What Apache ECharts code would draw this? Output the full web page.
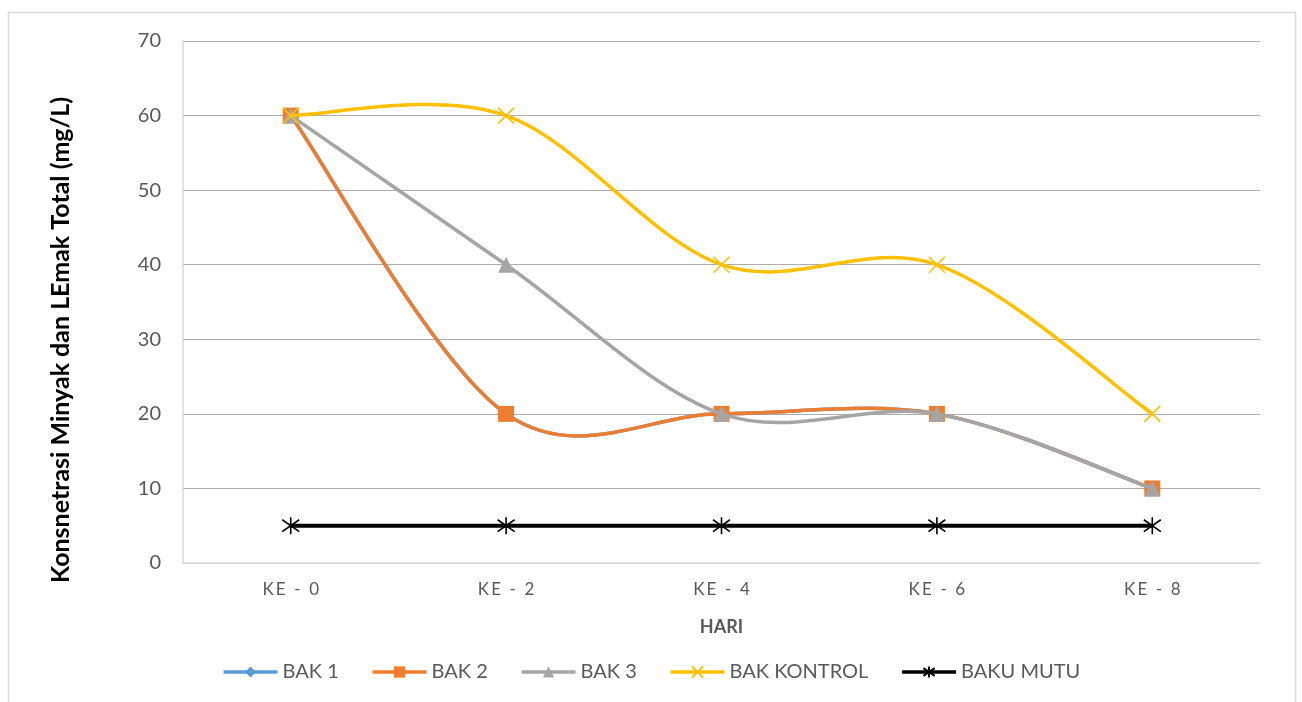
<!DOCTYPE html>
<html>
<head>
<meta charset="utf-8">
<script src="https://cdn.jsdelivr.net/npm/echarts@6/dist/echarts.min.js"></script>
<style>
html,body{margin:0;padding:0;background:#fff;}
#chart{width:1302px;height:702px;}
</style>
</head>
<body>
<div id="chart"></div>
<script>
const categories = ['KE - 0', 'KE - 2', 'KE - 4', 'KE - 6', 'KE - 8'];
const bak1 = [60, 20, 20, 20, 10];
const bak2 = [60, 20, 20, 20, 10];
const bak3 = [60, 40, 20, 20, 10];
const bakKontrol = [60, 60, 40, 40, 20];
const bakuMutu = [5, 5, 5, 5, 5];
const yTicks = { min: 0, max: 70, interval: 10 };

const FONT = 'Lato';
const chart = echarts.init(document.getElementById('chart'), null, { renderer: 'canvas' });

const xPath = 'path://M0,0L10,10M10,0L0,10';
const starPath = 'path://M0,1.5L10,8.5M0,8.5L10,1.5M5,0L5,10';

const COLORS = {
  'BAK 1': '#5B9BD5',
  'BAK 2': '#ED7D31',
  'BAK 3': '#A5A5A5',
  'BAK KONTROL': '#FFC000',
  'BAKU MUTU': '#000000'
};
const LW = 3.5;

// Excel-like smoothed curve (Catmull-Rom, 1/6) drawn through the axis scales
function curveSeries(name, values, z) {
  return {
    name: name + ' (curve)',
    type: 'custom',
    coordinateSystem: 'cartesian2d',
    silent: true,
    z: z,
    clip: false,
    animation: false,
    data: [[0, values[0]]],
    encode: { x: 0, y: 1 },
    renderItem: function (params, api) {
      const p = values.map(function (v, i) { return api.coord([i, v]); });
      const children = [];
      for (let i = 0; i < p.length - 1; i++) {
        const p0 = p[i - 1] || p[i];
        const p1 = p[i];
        const p2 = p[i + 1];
        const p3 = p[i + 2] || p[i + 1];
        children.push({
          type: 'bezierCurve',
          shape: {
            x1: p1[0], y1: p1[1],
            x2: p2[0], y2: p2[1],
            cpx1: p1[0] + (p2[0] - p0[0]) / 6, cpy1: p1[1] + (p2[1] - p0[1]) / 6,
            cpx2: p2[0] - (p3[0] - p1[0]) / 6, cpy2: p2[1] - (p3[1] - p1[1]) / 6
          },
          style: { stroke: COLORS[name], lineWidth: LW, fill: null, lineCap: 'round', lineJoin: 'round' }
        });
      }
      return { type: 'group', children: children };
    }
  };
}

function markerSeries(name, data, symbol, size, z, extra) {
  const c = COLORS[name];
  return Object.assign({
    name: name,
    type: 'line',
    data: data,
    z: z,
    symbol: symbol,
    symbolSize: size,
    showSymbol: true,
    lineStyle: { color: c, width: LW, opacity: 0 },
    itemStyle: { color: c, borderColor: c, borderWidth: 0, opacity: 1 },
    emphasis: { disabled: true },
    animation: false
  }, extra || {});
}

function legendItem(name) {
  return { name: name, lineStyle: { color: COLORS[name], width: LW, opacity: 1 } };
}

chart.setOption({
  backgroundColor: '#ffffff',
  animation: false,
  textStyle: { fontFamily: FONT },
  graphic: [{
    type: 'rect',
    shape: { x: 8.5, y: 12.5, width: 1287, height: 720 },
    style: { fill: 'none', stroke: '#D9D9D9', lineWidth: 1.5 },
    silent: true, z: -10
  }],
  grid: { left: 183, right: 42, top: 41, bottom: 139, containLabel: false },
  legend: {
    left: 'center',
    top: 657,
    itemWidth: 54,
    itemHeight: 14,
    itemGap: 32,
    textStyle: { fontFamily: FONT, fontSize: 20, color: '#595959' },
    data: ['BAK 1', 'BAK 2', 'BAK 3', 'BAK KONTROL', 'BAKU MUTU'].map(legendItem)
  },
  xAxis: {
    type: 'category',
    data: categories,
    boundaryGap: true,
    name: 'HARI',
    nameLocation: 'middle',
    nameGap: 55,
    nameTextStyle: { fontFamily: FONT, fontSize: 18, fontWeight: 'bold', color: '#595959' },
    axisLine: { show: true, lineStyle: { color: '#D9D9D9', width: 1.5 } },
    axisTick: { show: false },
    axisLabel: {
      fontFamily: FONT, fontSize: 17, color: '#595959', margin: 18,
      formatter: function (v) { return v.split('').join('\u2009'); }
    },
    splitLine: { show: false }
  },
  yAxis: {
    type: 'value',
    min: yTicks.min,
    max: yTicks.max,
    interval: yTicks.interval,
    name: 'Konsnetrasi Minyak dan LEmak Total (mg/L)',
    nameLocation: 'middle',
    nameRotate: 90,
    nameGap: 110,
    nameTextStyle: { fontFamily: FONT, fontSize: 25, fontWeight: 'bold', color: '#000000', padding: [0, 76, 0, 0] },
    axisLine: { show: true, lineStyle: { color: '#D9D9D9', width: 1.5 } },
    axisTick: { show: false },
    axisLabel: { fontFamily: FONT, fontSize: 20, color: '#595959', margin: 22 },
    splitLine: { show: true, lineStyle: { color: ['#D9D9D9', '#ADADAD', '#ADADAD', '#ADADAD', '#ADADAD', '#ADADAD', '#ADADAD', '#ADADAD'], width: 1.2 } }
  },
  series: [
    markerSeries('BAK 1', bak1, 'diamond', 13, 11),
    markerSeries('BAK 2', bak2, 'rect', 16, 13),
    markerSeries('BAK 3', bak3, 'triangle', 16, 15),
    markerSeries('BAK KONTROL', bakKontrol, xPath, 16, 17, {
      itemStyle: { color: '#FFC000', borderColor: '#FFC000', borderWidth: 1.6 }
    }),
    markerSeries('BAKU MUTU', bakuMutu, starPath, 17, 19, {
      lineStyle: { color: '#000000', width: 4, opacity: 1 },
      itemStyle: { color: '#000000', borderColor: '#000000', borderWidth: 1.6 }
    }),
    curveSeries('BAK 1', bak1, 10),
    curveSeries('BAK 2', bak2, 12),
    curveSeries('BAK 3', bak3, 14),
    curveSeries('BAK KONTROL', bakKontrol, 16)
  ]
});
</script>
</body>
</html>
